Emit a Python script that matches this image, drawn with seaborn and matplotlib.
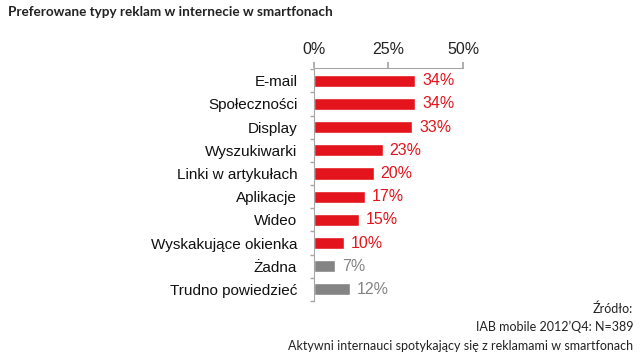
import matplotlib
matplotlib.use("Agg")
import matplotlib.pyplot as plt
import seaborn as sns
import pandas as pd
import numpy as np

categories = ["E-mail", "Społeczności", "Display", "Wyszukiwarki", "Linki w artykułach",
              "Aplikacje", "Wideo", "Wyskakujące okienka", "Żadna", "Trudno powiedzieć"]
values = [34, 34, 33, 23, 20, 17, 15, 10, 7, 12]
groups = ["typ"] * 8 + ["brak"] * 2
xticks = [0, 25, 50]
xtick_labels = ["0%", "25%", "50%"]

RED = "#E3141C"
GRAY = "#848484"
palette = {"typ": RED, "brak": GRAY}

sns.set_theme(style="white")
plt.rcParams['font.family'] = ['Liberation Sans', 'DejaVu Sans']

df = pd.DataFrame({"cat": categories, "val": values, "grp": groups})

fig = plt.figure(figsize=(6.4, 3.6), dpi=100)
ax = fig.add_axes([0.4906, 0.1639, 0.2328, 0.6472])
sns.barplot(data=df, x="val", y="cat", hue="grp", palette=palette, order=categories,
            dodge=False, width=0.52, legend=False, ax=ax, saturation=1)

ax.set_xlim(0, 50)
ax.set_ylim(9.5, -0.55)
ax.xaxis.tick_top()
ax.set_xticks(xticks)
ax.set_xticklabels(xtick_labels, fontsize=11.5, color="#222222")
ax.set_xlabel("")
ax.set_ylabel("")
ax.tick_params(axis="x", which="major", direction="out", length=4, color="#A6A6A6", pad=4)
ax.set_yticks(range(len(categories)))
ax.set_yticklabels(categories, fontsize=11, color="#111111")
ax.tick_params(axis="y", which="major", length=0, pad=12)
ax.set_yticks(np.arange(-0.5, len(categories), 1.0), minor=True)
ax.tick_params(axis="y", which="minor", direction="out", length=3, color="#A6A6A6", left=True)

for s in ["right", "bottom"]:
    ax.spines[s].set_visible(False)
for s in ["left", "top"]:
    ax.spines[s].set_color("#A6A6A6")
    ax.spines[s].set_linewidth(0.8)

for i, (v, g) in enumerate(zip(values, groups)):
    ax.text(v + 2.3, i, f"{v}%", va="center", ha="left", fontsize=11.5,
            color=palette[g])

fig.text(8 / 640, 1 - 12 / 360, "Preferowane typy reklam w internecie w smartfonach",
         fontsize=9.7, fontweight="bold", family=["Lato", "DejaVu Sans"], color="#222222",
         va="center", ha="left")

src = ["Źródło:", "IAB mobile 2012’Q4: N=389",
       "Aktywni internauci spotykający się z reklamami w smartfonach"]
ys = [309, 327, 346]
for t, y in zip(src, ys):
    fig.text(633 / 640, 1 - y / 360, t, fontsize=9, family=["Lato", "DejaVu Sans"],
             color="#222222", ha="right", va="center")

fig.savefig("out.png", dpi=100)
